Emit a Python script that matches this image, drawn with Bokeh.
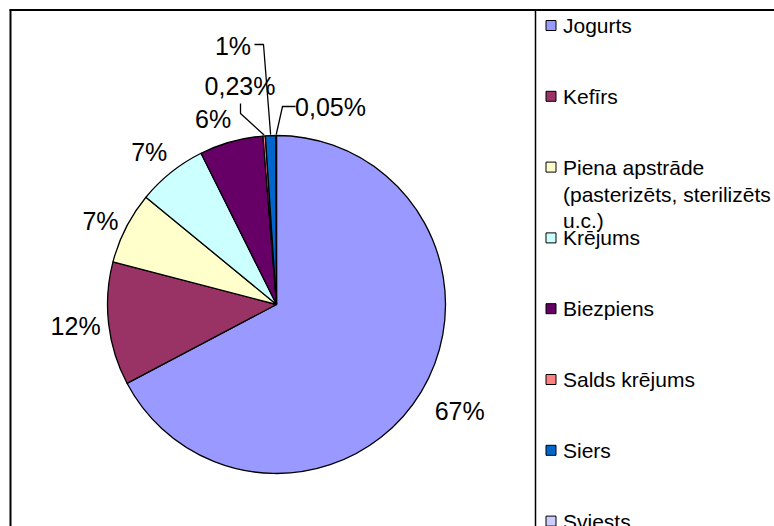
import math
from bokeh.plotting import figure
from bokeh.models import Range1d, ColumnDataSource
from bokeh.embed import file_html
from bokeh.resources import INLINE
from bokeh.core.properties import value

# ---- data ----
categories = ["Jogurts", "Kefīrs", "Piena apstrāde\n(pasterizēts, sterilizēts\nu.c.)",
              "Krējums", "Biezpiens", "Salds krējums", "Siers", "Sviests"]
shares = [67.4, 11.8, 6.9, 6.7, 6.1, 0.23, 1.0, 0.05]
share_labels = ["67%", "12%", "7%", "7%", "6%", "0,23%", "1%", "0,05%"]
colors = ["#9999FF", "#993366", "#FFFFCC", "#CCFFFF", "#660066", "#FF8080", "#0066CC", "#CCCCFF"]

# ---- layout (page pixel coordinates) ----
W, H = 774, 526
FONT = value("Liberation Sans")


def Y(py):
    return H - py


CX, CY = 276, 304
R = 169
label_dist = [212, 202, 195, 199, 196]
label_nudge_deg = [-0.9, 0.5, -1.5, -1.2, -3.3]
small_label_pos = {5: (239.5, 85.5), 6: (232.5, 45), 7: (330, 106.5)}
small_elbows = {5: [(240, 103), (240, 113)], 6: [(254, 44), (263, 44)], 7: [(295, 106), (282, 106)]}

p = figure(width=W, height=H, x_range=Range1d(0, W), y_range=Range1d(0, H),
           output_backend="svg", toolbar_location=None, min_border=0,
           x_axis_location=None, y_axis_location=None)
p.grid.visible = False
p.outline_line_color = None
p.background_fill_color = "white"
p.border_fill_color = "white"

# wedges
total = sum(shares)
starts, ends, a0s, a1s = [], [], [], []
acc = 0.0
for s in shares:
    a0 = acc / total * 2 * math.pi
    acc += s
    a1 = acc / total * 2 * math.pi
    a0s.append(a0)
    a1s.append(a1)
    starts.append(math.pi / 2 - a1)
    ends.append(math.pi / 2 - a0)

src = ColumnDataSource(dict(start=starts, end=ends, color=colors, cat=categories))
p.wedge(x=CX, y=Y(CY), radius=R, start_angle="start", end_angle="end",
        fill_color="color", line_color="black", line_width=1.3, source=src)

# data labels
lx, ly, lt = [], [], []
for i, lab in enumerate(share_labels):
    mid = (a0s[i] + a1s[i]) / 2
    if i in small_label_pos:
        x, y = small_label_pos[i]
        ex = CX + (R + 1) * math.sin(mid)
        ey = CY - (R + 1) * math.cos(mid)
        pts = small_elbows[i] + [(ex, ey)]
        p.line([q[0] for q in pts], [Y(q[1]) for q in pts], line_color="black", line_width=1.3)
    else:
        d = label_dist[i]
        a = mid + math.radians(label_nudge_deg[i])
        x = CX + d * math.sin(a)
        y = CY - d * math.cos(a)
    lx.append(x)
    ly.append(Y(y))
    lt.append(lab)
p.text(x=lx, y=ly, text=lt, text_font=FONT, text_font_size="25px",
       text_align="center", text_baseline="middle", text_color="black")

# chart frame and legend frame
p.segment(x0=[9, 10, 535], y0=[Y(9.5), Y(9), Y(9)], x1=[W, 10, 535], y1=[Y(9.5), 0, 0],
          line_color="black", line_width=[2, 2, 1.5])

# legend
leg_y = [25 + i * 70.8 for i in range(len(categories))]
p.rect(x=[550.5] * len(categories), y=[Y(v) for v in leg_y], width=10, height=10,
       fill_color=colors, line_color="black", line_width=1)
p.text(x=[562.5] * len(categories), y=[Y(v - 11.5) for v in leg_y], text=categories,
       text_font=FONT, text_font_size="21px", text_align="left", text_baseline="top",
       text_color="black", text_line_height=1.17)

open("out.html", "w").write(file_html(p, INLINE))
